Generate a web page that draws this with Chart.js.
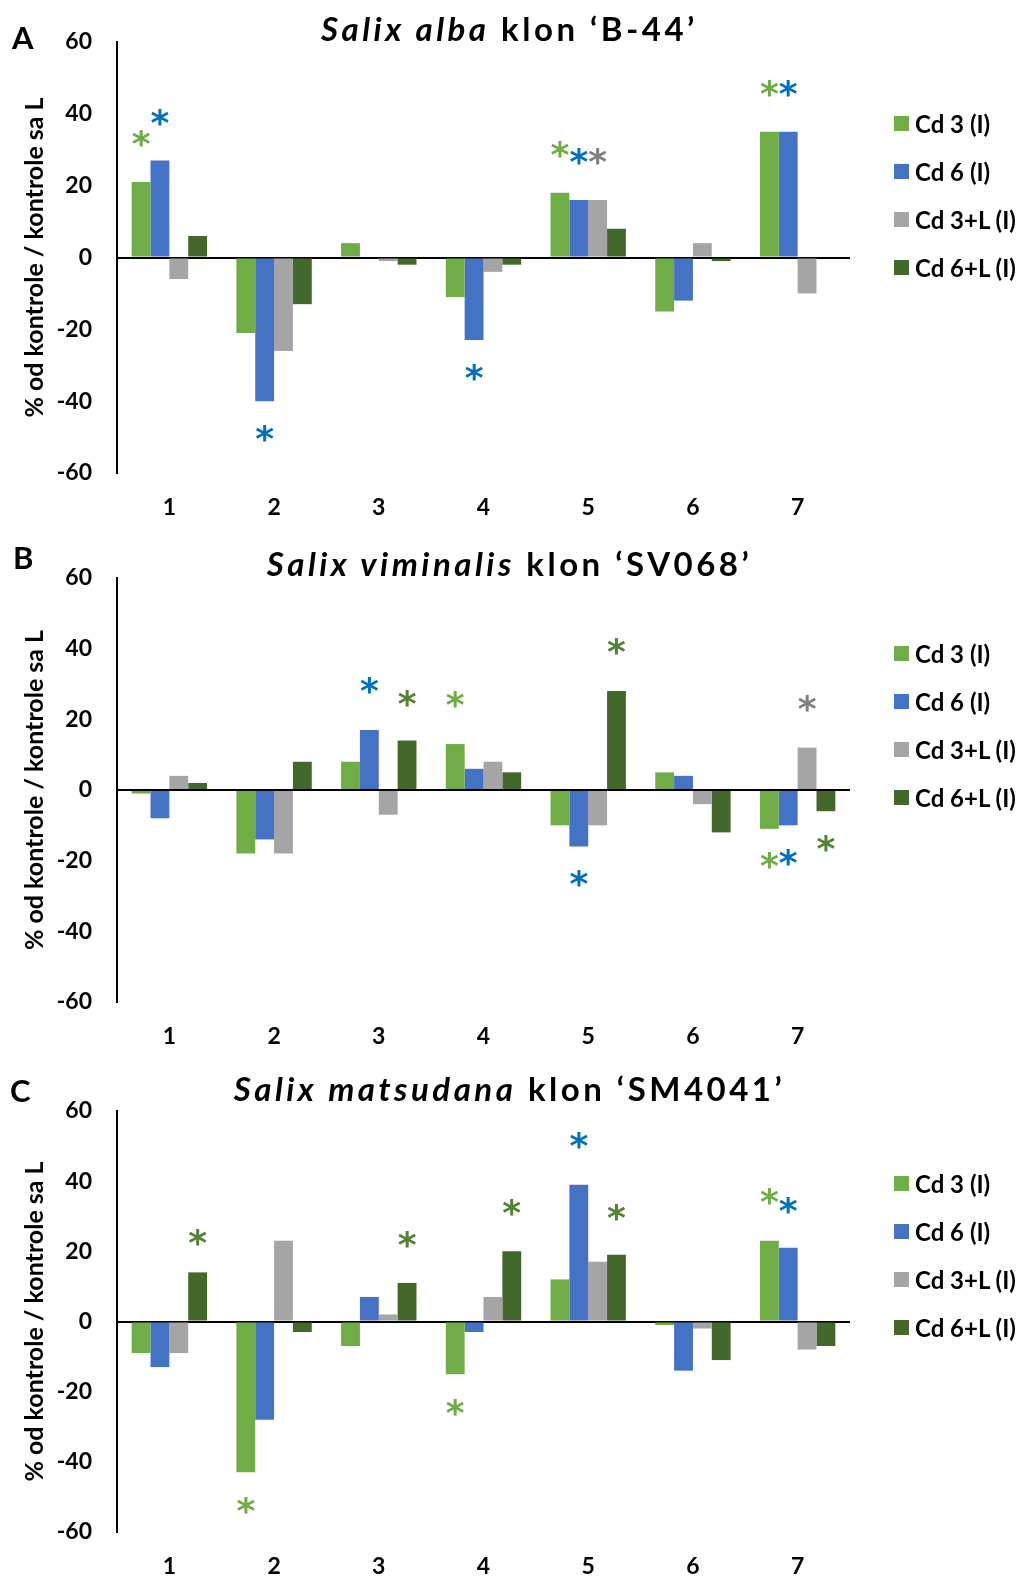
<!DOCTYPE html>
<html>
<head>
<meta charset="utf-8">
<script src="https://cdn.jsdelivr.net/npm/chart.js"></script>
<style>
body { margin: 0; background: #fff; font-family: Lato, sans-serif; }
#strana { position: relative; width: 1019px; height: 1576px; overflow: hidden; }
.blok { position: absolute; left: 0; width: 1019px; }
.blok canvas { position: absolute; left: 0; top: 0; }
.naslov { position: absolute; left: 0; width: 1019px; text-align: center; font-weight: bold; font-size: 33px; letter-spacing: 3.5px; line-height: 36px; }
.slovo { position: absolute; font-weight: bold; font-size: 31px; line-height: 36px; }
.stavka { position: absolute; left: 894px; height: 30px; display: flex; align-items: center; font-weight: bold; font-size: 24px; white-space: nowrap; }
.kvadrat { width: 15px; height: 15px; margin-right: 6px; }
</style>
</head>
<body>
<div id="strana"></div>
<script>
// kategorije i serije
const kategorije = ['1', '2', '3', '4', '5', '6', '7'];
const serije = ['Cd 3 (I)', 'Cd 6 (I)', 'Cd 3+L (I)', 'Cd 6+L (I)'];
const boje = ['#70AD47', '#4472C4', '#A5A5A5', '#43682B'];
const bojeZvjezdica = ['#70AD47', '#0070C0', '#808080', '#548235'];
const yTicks = [-60, -40, -20, 0, 20, 40, 60];

// A - Salix alba
const cd3A = [21, -21, 4, -11, 18, -15, 35];
const cd6A = [27, -40, 0, -23, 16, -12, 35];
const cd3LA = [-6, -26, -1, -4, 16, 4, -10];
const cd6LA = [6, -13, -2, -2, 8, -1, 0];
// zvjezdice: [kategorija, serija, y]
const zvA = [[0, 0, 33], [0, 1, 39], [1, 1, -49], [3, 1, -32], [4, 0, 30], [4, 1, 28], [4, 2, 28], [6, 0, 47], [6, 1, 47]];

// B - Salix viminalis
const cd3B = [-1, -18, 8, 13, -10, 5, -11];
const cd6B = [-8, -14, 17, 6, -16, 4, -10];
const cd3LB = [4, -18, -7, 8, -10, -4, 12];
const cd6LB = [2, 8, 14, 5, 28, -12, -6];
const zvB = [[2, 1, 29.5], [2, 3, 26], [3, 0, 25.5], [4, 3, 40.5], [4, 1, -25], [6, 2, 24.5], [6, 0, -20], [6, 1, -19], [6, 3, -15]];

// C - Salix matsudana
const cd3C = [-9, -43, -7, -15, 12, -1, 23];
const cd6C = [-13, -28, 7, -3, 39, -14, 21];
const cd3LC = [-9, 23, 2, 7, 17, -2, -8];
const cd6LC = [14, -3, 11, 20, 19, -11, -7];
const zvC = [[0, 3, 24], [1, 0, -52.5], [2, 3, 23.5], [3, 0, -24.5], [3, 3, 32.5], [4, 1, 51.5], [4, 3, 31], [6, 0, 35.5], [6, 1, 33]];

const paneli = [
    { slovo: 'A', vrsta: 'Salix alba', klon: '‘B-44’', podaci: [cd3A, cd6A, cd3LA, cd6LA], zv: zvA,
      top: 0, visina: 530, osTop: 42, osDno: 473, naslovY: 28, slovoX: 12, slovoY: 37, legY: 123 },
    { slovo: 'B', vrsta: 'Salix viminalis', klon: '‘SV068’', podaci: [cd3B, cd6B, cd3LB, cd6LB], zv: zvB,
      top: 530, visina: 530, osTop: 48, osDno: 472, naslovY: 33, slovoX: 13, slovoY: 27, legY: 123 },
    { slovo: 'C', vrsta: 'Salix matsudana', klon: '‘SM4041’', podaci: [cd3C, cd6C, cd3LC, cd6LC], zv: zvC,
      top: 1060, visina: 516, osTop: 51, osDno: 472, naslovY: 28, slovoX: 10, slovoY: 30, legY: 123 }
];

const zvjezdice = {
    id: 'zvjezdice',
    afterDatasetsDraw(chart, args, opts) {
        const ctx = chart.ctx;
        const y = chart.scales.y;
        ctx.save();
        ctx.font = 'bold 36px "DejaVu Sans"';
        ctx.textAlign = 'center';
        ctx.textBaseline = 'alphabetic';
        const m = ctx.measureText('*');
        const pomak = (m.actualBoundingBoxAscent - m.actualBoundingBoxDescent) / 2;
        opts.lista.forEach(([k, s, v]) => {
            const bar = chart.getDatasetMeta(s).data[k];
            ctx.fillStyle = bojeZvjezdica[s];
            ctx.fillText('*', bar.x, y.getPixelForValue(v) + pomak);
        });
        ctx.restore();
    }
};

const strana = document.getElementById('strana');

paneli.forEach(p => {
    const blok = document.createElement('div');
    blok.className = 'blok';
    blok.style.top = p.top + 'px';
    blok.style.height = p.visina + 'px';
    strana.appendChild(blok);

    const canvas = document.createElement('canvas');
    canvas.width = 1019;
    canvas.height = p.visina;
    canvas.style.width = '1019px';
    canvas.style.height = p.visina + 'px';
    blok.appendChild(canvas);

    const naslov = document.createElement('div');
    naslov.className = 'naslov';
    naslov.style.top = (p.naslovY - 18) + 'px';
    naslov.innerHTML = '<i>' + p.vrsta + '</i> klon ' + p.klon;
    blok.appendChild(naslov);

    const slovo = document.createElement('div');
    slovo.className = 'slovo';
    slovo.style.left = p.slovoX + 'px';
    slovo.style.top = (p.slovoY - 18) + 'px';
    slovo.textContent = p.slovo;
    blok.appendChild(slovo);

    serije.forEach((s, i) => {
        const st = document.createElement('div');
        st.className = 'stavka';
        st.style.top = (p.legY + i * 48 - 15) + 'px';
        st.innerHTML = '<span class="kvadrat" style="background:' + boje[i] + '"></span>' + s;
        blok.appendChild(st);
    });

    new Chart(canvas, {
        type: 'bar',
        data: {
            labels: kategorije,
            datasets: serije.map((s, i) => ({
                label: s,
                data: p.podaci[i],
                backgroundColor: boje[i],
                borderWidth: 0
            }))
        },
        options: {
            responsive: false,
            animation: false,
            layout: { padding: { left: 13, right: 169, top: p.osTop, bottom: 0 } },
            categoryPercentage: 0.72,
            barPercentage: 1,
            plugins: {
                legend: { display: false },
                tooltip: { enabled: false },
                zvjezdice: { lista: p.zv }
            },
            scales: {
                x: {
                    grid: { display: false, drawTicks: false },
                    border: { display: false },
                    ticks: { color: '#000', padding: 21, font: { family: 'Lato', size: 23, weight: 'bold' } },
                    afterFit(scale) { scale.height = p.visina - p.osDno; }
                },
                y: {
                    min: -60,
                    max: 60,
                    z: 1,
                    afterBuildTicks(scale) { scale.ticks = yTicks.map(v => ({ value: v })); },
                    afterFit(scale) { scale.width = 104; },
                    grid: {
                        drawTicks: false,
                        lineWidth: 2,
                        color: c => c.tick && c.tick.value === 0 ? '#000' : 'rgba(0,0,0,0)'
                    },
                    border: { display: true, color: '#000', width: 2 },
                    ticks: { color: '#000', padding: 25, font: { family: 'Lato', size: 23, weight: 'bold' } },
                    title: {
                        display: true,
                        text: '% od kontrole / kontrole sa L',
                        color: '#000',
                        padding: { top: 7, bottom: 0 },
                        font: { family: 'Lato', size: 25, weight: 'bold' }
                    }
                }
            }
        },
        plugins: [zvjezdice]
    });
});
</script>
</body>
</html>
